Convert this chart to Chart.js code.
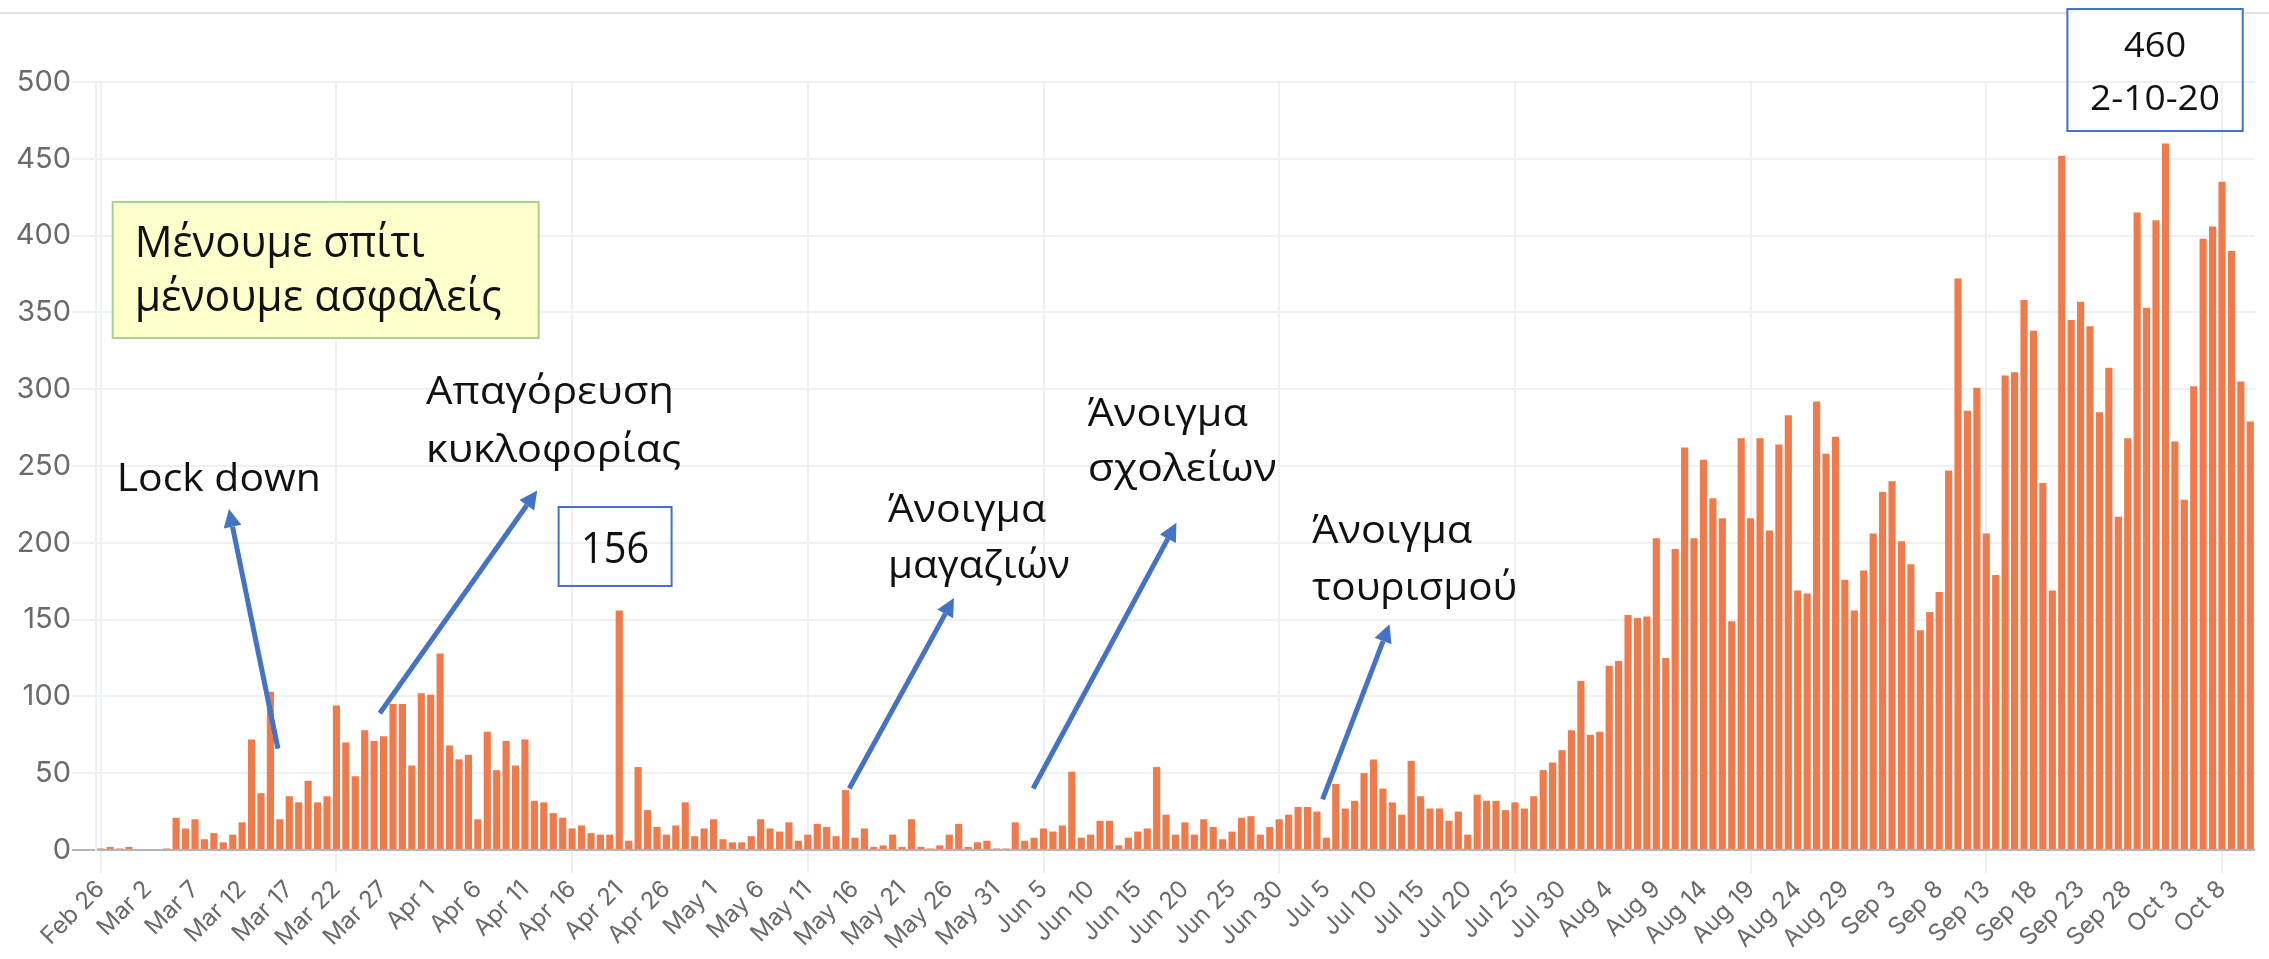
<!DOCTYPE html>
<html>
<head>
<meta charset="utf-8">
<title>Νέα κρούσματα ανά ημέρα</title>
<script src="https://cdn.jsdelivr.net/npm/chart.js@4.4.1/dist/chart.umd.min.js"></script>
<style>
  html, body { margin: 0; padding: 0; background: #fff; }
</style>
</head>
<body>
<canvas id="cases-chart" width="2269" height="959"></canvas>
<script>
// Daily new cases, one array per month (Feb 26 -> Oct 11)
const months = ['Feb', 'Mar', 'Apr', 'May', 'Jun', 'Jul', 'Aug', 'Sep', 'Oct'];
const firstDay = [26, 1, 1, 1, 1, 1, 1, 1, 1];

const feb = [1, 2, 1, 2];
const mar = [0, 0, 0, 1, 21, 14, 20, 7, 11, 5, 10, 18, 72, 37, 103, 20, 35, 31, 45, 31,
             35, 94, 70, 48, 78, 71, 74, 95, 95, 55, 102];
const apr = [101, 128, 68, 59, 62, 20, 77, 52, 71, 55, 72, 32, 31, 24, 21, 14, 16, 11, 10, 10,
             156, 6, 54, 26, 15, 10, 16, 31, 9, 14];
const may = [20, 7, 5, 5, 9, 20, 14, 12, 18, 6, 10, 17, 15, 9, 39, 8, 14, 2, 3, 10,
             2, 20, 2, 1, 3, 10, 17, 2, 5, 6, 1];
const jun = [1, 18, 6, 8, 14, 12, 16, 51, 8, 10, 19, 19, 3, 8, 12, 14, 54, 23, 10, 18,
             10, 20, 15, 7, 12, 21, 22, 10, 15, 20];
const jul = [23, 28, 28, 25, 8, 43, 27, 32, 50, 59, 40, 31, 23, 58, 35, 27, 27, 19, 25, 10,
             36, 32, 32, 26, 31, 27, 35, 52, 57, 65, 78];
const aug = [110, 75, 77, 120, 123, 153, 151, 152, 203, 125, 196, 262, 203, 254, 229, 216, 149, 268, 216, 268,
             208, 264, 283, 169, 167, 292, 258, 269, 176, 156, 182];
const sep = [206, 233, 240, 201, 186, 143, 155, 168, 247, 372, 286, 301, 206, 179, 309, 311, 358, 338, 239, 169,
             452, 345, 357, 341, 285, 314, 217, 268, 415, 353];
const oct = [410, 460, 266, 228, 302, 398, 406, 435, 390, 305, 279];

const valuesByMonth = [feb, mar, apr, may, jun, jul, aug, sep, oct];

// build category labels + one flat series
const labels = [];
const cases = [];
valuesByMonth.forEach((vals, m) => {
    vals.forEach((v, i) => {
        labels.push(months[m] + ' ' + (firstDay[m] + i));
        cases.push(v);
    });
});

// Annotations, placed in data units (x = day index, y = cases)
const noteArrows = [
    { from: [18.8, 66], to: [13.6, 222] },   // Lock down
    { from: [29.6, 89], to: [46.3, 234] },   // Απαγόρευση κυκλοφορίας
    { from: [79.4, 40], to: [90.5, 164] },   // μαγαζιά
    { from: [98.9, 40], to: [114.1, 213] },  // σχολεία
    { from: [129.6, 33], to: [136.7, 147] }  // τουρισμός
];
// [text, x, baseline y, font px, text width px]
const noteLines = [
    ['Lock down', 1.7, 233.7, 39, 204],
    ['Απαγόρευση', 34.5, 290.4, 39, 248],
    ['κυκλοφορίας', 34.5, 252.6, 39, 255],
    ['Άνοιγμα', 83.5, 213.5, 39, 158],
    ['μαγαζιών', 83.5, 177.1, 39, 182],
    ['Άνοιγμα', 104.7, 276.0, 39, 160],
    ['σχολείων', 104.7, 240.2, 39, 189],
    ['Άνοιγμα', 128.5, 199.9, 39, 160],
    ['τουρισμού', 128.5, 162.8, 39, 205]
];
const stayHomeBox = { x0: 1.27, x1: 46.45, y0: 421.9, y1: 333.3 };
const stayHomeLines = [
    ['Μένουμε σπίτι', 3.6, 385.9, 43, 290],
    ['μένουμε ασφαλείς', 3.6, 350.7, 43, 367]
];
const aprilBox = { x0: 48.57, x1: 60.55, y0: 223.3, y1: 171.9 };
const aprilLines = [['156', 54.56, 186.8, 44, 68]];
const peakBox = { x0: 208.6, x1: 227.2, y0: 547.5, y1: 468.1 };
const peakLines = [
    ['460', 217.9, 516.3, 35, 62],
    ['2-10-20', 217.9, 481.8, 35, 130]
];

const NOTE_FONT = '"Open Sans", "Noto Sans", sans-serif';
const ARROW_BLUE = '#4472c4';

function drawArrow(ctx, x1, y1, x2, y2) {
    const ang = Math.atan2(y2 - y1, x2 - x1);
    const headLen = 18, headHalf = 9;
    const bx = x2 - headLen * Math.cos(ang);
    const by = y2 - headLen * Math.sin(ang);
    ctx.strokeStyle = ARROW_BLUE;
    ctx.fillStyle = ARROW_BLUE;
    ctx.lineWidth = 5;
    ctx.beginPath();
    ctx.moveTo(x1, y1);
    ctx.lineTo(bx, by);
    ctx.stroke();
    ctx.beginPath();
    ctx.moveTo(x2, y2);
    ctx.lineTo(bx + headHalf * Math.sin(ang), by - headHalf * Math.cos(ang));
    ctx.lineTo(bx - headHalf * Math.sin(ang), by + headHalf * Math.cos(ang));
    ctx.closePath();
    ctx.fill();
}

// Calibri-like text: squeeze/stretch a normal sans to the width seen in the picture
function drawNote(ctx, item, X, Y, align) {
    const [text, x, y, size, width] = item;
    ctx.save();
    ctx.font = size + 'px ' + NOTE_FONT;
    const squeeze = width / ctx.measureText(text).width;
    ctx.fillStyle = '#111';
    ctx.textBaseline = 'alphabetic';
    ctx.textAlign = align || 'left';
    ctx.translate(X(x), Y(y));
    ctx.scale(squeeze, 1);
    ctx.fillText(text, 0, 0);
    ctx.restore();
}

function boxRect(ctx, b, X, Y) {
    return [X(b.x0), Y(b.y0), X(b.x1) - X(b.x0), Y(b.y1) - Y(b.y0)];
}

const notesPlugin = {
    id: 'notes',
    beforeDraw(chart) {
        const ctx = chart.ctx;
        const xs = chart.scales.x;
        // thin page border line on top
        const bx0 = xs.getPixelForValue(peakBox.x0);
        const bx1 = xs.getPixelForValue(peakBox.x1);
        ctx.save();
        ctx.strokeStyle = '#e3e3e3';
        ctx.lineWidth = 2;
        ctx.beginPath();
        ctx.moveTo(0, 13); ctx.lineTo(bx0, 13);
        ctx.moveTo(bx1, 13); ctx.lineTo(chart.width, 13);
        ctx.stroke();
        ctx.restore();
    },
    afterDraw(chart) {
        const ctx = chart.ctx;
        const xs = chart.scales.x, ys = chart.scales.y;
        const X = v => xs.getPixelForValue(v);
        const Y = v => ys.getPixelForValue(v);

        ctx.save();
        // yellow box
        ctx.fillStyle = '#ffffcc';
        ctx.strokeStyle = '#a9d18e';
        ctx.lineWidth = 2;
        ctx.fillRect(...boxRect(ctx, stayHomeBox, X, Y));
        ctx.strokeRect(...boxRect(ctx, stayHomeBox, X, Y));
        stayHomeLines.forEach(l => drawNote(ctx, l, X, Y));

        // blue outlined value boxes
        ctx.strokeStyle = ARROW_BLUE;
        ctx.lineWidth = 2;
        ctx.strokeRect(...boxRect(ctx, aprilBox, X, Y));
        aprilLines.forEach(l => drawNote(ctx, l, X, Y, 'center'));
        ctx.strokeRect(...boxRect(ctx, peakBox, X, Y));
        peakLines.forEach(l => drawNote(ctx, l, X, Y, 'center'));

        noteLines.forEach(l => drawNote(ctx, l, X, Y));
        noteArrows.forEach(n => drawArrow(ctx, X(n.from[0]), Y(n.from[1]), X(n.to[0]), Y(n.to[1])));
        ctx.restore();
    }
};

const gridColor = '#edf0f5';

new Chart(document.getElementById('cases-chart'), {
    type: 'bar',
    data: {
        labels: labels,
        datasets: [{
            label: 'Νέα κρούσματα',
            data: cases,
            backgroundColor: '#ef7b4d',
            borderWidth: 0,
            barPercentage: 0.76,
            categoryPercentage: 1.0
        }]
    },
    options: {
        responsive: false,
        animation: false,
        layout: { padding: { top: 82, right: 14, bottom: 0, left: 0 } },
        plugins: {
            legend: { display: false },
            tooltip: { enabled: false }
        },
        scales: {
            x: {
                offset: true,
                grid: {
                    offset: false,
                    lineWidth: 2,
                    tickLength: 23,
                    color: ctx => (ctx.index % 5 === 0 ? gridColor : 'rgba(0,0,0,0)')
                },
                border: { display: false },
                ticks: {
                    autoSkip: false,
                    minRotation: 45,
                    maxRotation: 45,
                    padding: 2,
                    color: '#6a6a6a',
                    font: { family: 'Inter, "Noto Sans", sans-serif', size: 24 },
                    callback: (val, index) => (index % 5 === 0 ? labels[index] : null)
                },
                afterFit: scale => { scale.height = 109; }
            },
            y: {
                min: 0,
                max: 500,
                grid: {
                    lineWidth: 2,
                    tickLength: 24,
                    color: ctx => (ctx.tick && ctx.tick.value === 0 ? '#b4b4b4' : gridColor)
                },
                border: { display: true, color: gridColor, width: 2 },
                ticks: {
                    stepSize: 50,
                    padding: 1,
                    color: '#6a6a6a',
                    font: { family: 'Inter, "Noto Sans", sans-serif', size: 29 }
                },
                afterFit: scale => { scale.width = 96; }
            }
        }
    },
    plugins: [notesPlugin]
});
</script>
</body>
</html>
